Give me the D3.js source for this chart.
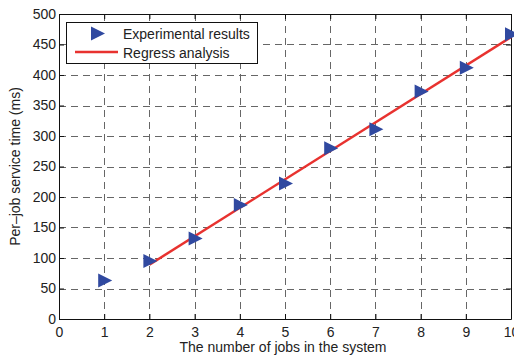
<!DOCTYPE html>
<html>
<head>
<meta charset="utf-8">
<script src="https://cdn.jsdelivr.net/npm/d3@7"></script>
<style>
  body { margin: 0; background: #fff; }
  svg text { font-family: "Liberation Sans", Arial, Helvetica, sans-serif; fill: #222; }
</style>
</head>
<body>
<script>
// Data
const jobs = [1, 2, 3, 4, 5, 6, 7, 8, 9, 10];
const serviceTime = [63, 95, 132, 187, 222, 280, 311, 373, 412, 467];
const regressX = [2, 10];
const regressY = [89, 462];
const xTicks = [0, 1, 2, 3, 4, 5, 6, 7, 8, 9, 10];
const yTicks = [0, 50, 100, 150, 200, 250, 300, 350, 400, 450, 500];
const legendLabels = ["Experimental results", "Regress analysis"];

const w = 514, h = 358;
const margin = { top: 14, right: 3, bottom: 39, left: 59 };
const blue = "#3049a0", red = "#e8322f";

const svg = d3.select("body").append("svg")
  .attr("width", w)
  .attr("height", h);

const x = d3.scaleLinear().domain([0, 10]).range([margin.left, w - margin.right]);
const y = d3.scaleLinear().domain([0, 500]).range([h - margin.bottom, margin.top]);

// Grid lines
const grid = svg.append("g").attr("stroke", "#666").attr("stroke-width", 1)
  .attr("stroke-dasharray", "7,5");
grid.selectAll(".vg").data(xTicks.slice(1, -1)).enter().append("line")
  .attr("x1", d => Math.round(x(d)) + 0.5).attr("x2", d => Math.round(x(d)) + 0.5)
  .attr("y1", y(500)).attr("y2", y(0));
grid.selectAll(".hg").data(yTicks.slice(1, -1)).enter().append("line")
  .attr("y1", d => Math.round(y(d)) + 0.5).attr("y2", d => Math.round(y(d)) + 0.5)
  .attr("x1", x(0)).attr("x2", x(10));

// Axes (ticks inward, box on all sides)
const fs = "14px";
const xAxis = svg.append("g").attr("transform", `translate(0,${y(0)})`)
  .call(d3.axisBottom(x).tickValues(xTicks).tickSizeInner(-5).tickSizeOuter(0).tickPadding(8));
const yAxis = svg.append("g").attr("transform", `translate(${x(0)},0)`)
  .call(d3.axisLeft(y).tickValues(yTicks).tickSizeInner(-5).tickSizeOuter(0).tickPadding(3));
const xTop = svg.append("g").attr("transform", `translate(0,${y(500)})`)
  .call(d3.axisTop(x).tickValues(xTicks).tickSizeInner(-5).tickSizeOuter(0).tickFormat(""));
const yRight = svg.append("g").attr("transform", `translate(${x(10)},0)`)
  .call(d3.axisRight(y).tickValues(yTicks).tickSizeInner(-5).tickSizeOuter(0).tickFormat(""));
[xAxis, yAxis, xTop, yRight].forEach(a => {
  a.selectAll("path, line").attr("stroke", "#111");
  a.selectAll("text").style("font-size", fs).attr("fill", "#222");
  a.attr("font-family", null);
});

// Regression line
svg.append("path")
  .datum(regressX.map((d, i) => [d, regressY[i]]))
  .attr("fill", "none")
  .attr("stroke", red)
  .attr("stroke-width", 2.5)
  .attr("d", d3.line().x(d => x(d[0])).y(d => y(d[1])));

// Experimental markers (right-pointing triangles)
const tri = "M-6,-7L8,0L-6,7Z";
svg.selectAll(".pt").data(jobs).enter().append("path")
  .attr("d", tri)
  .attr("fill", blue)
  .attr("transform", (d, i) => `translate(${x(d)},${y(serviceTime[i])})`);

// Axis labels
svg.append("text")
  .attr("x", (x(0) + x(10)) / 2 - 2)
  .attr("y", 352)
  .attr("text-anchor", "middle")
  .style("font-size", fs)
  .text("The number of jobs in the system");
svg.append("text")
  .attr("transform", `translate(20,${(y(0) + y(500)) / 2}) rotate(-90)`)
  .attr("text-anchor", "middle")
  .style("font-size", fs)
  .text("Per\u2013job service time (ms)");

// Legend
const legend = svg.append("g");
legend.append("rect")
  .attr("x", 66.5).attr("y", 22.5)
  .attr("width", 191).attr("height", 41)
  .attr("fill", "#fff").attr("stroke", "#111");
legend.append("path")
  .attr("d", tri).attr("fill", blue)
  .attr("transform", "translate(97,33.5)");
legend.append("line")
  .attr("x1", 75).attr("x2", 118).attr("y1", 52).attr("y2", 52)
  .attr("stroke", red).attr("stroke-width", 2.5);
legend.selectAll(".lt").data(legendLabels).enter().append("text")
  .attr("x", 123)
  .attr("y", (d, i) => 39 + i * 19)
  .style("font-size", fs)
  .text(d => d);
</script>
</body>
</html>
